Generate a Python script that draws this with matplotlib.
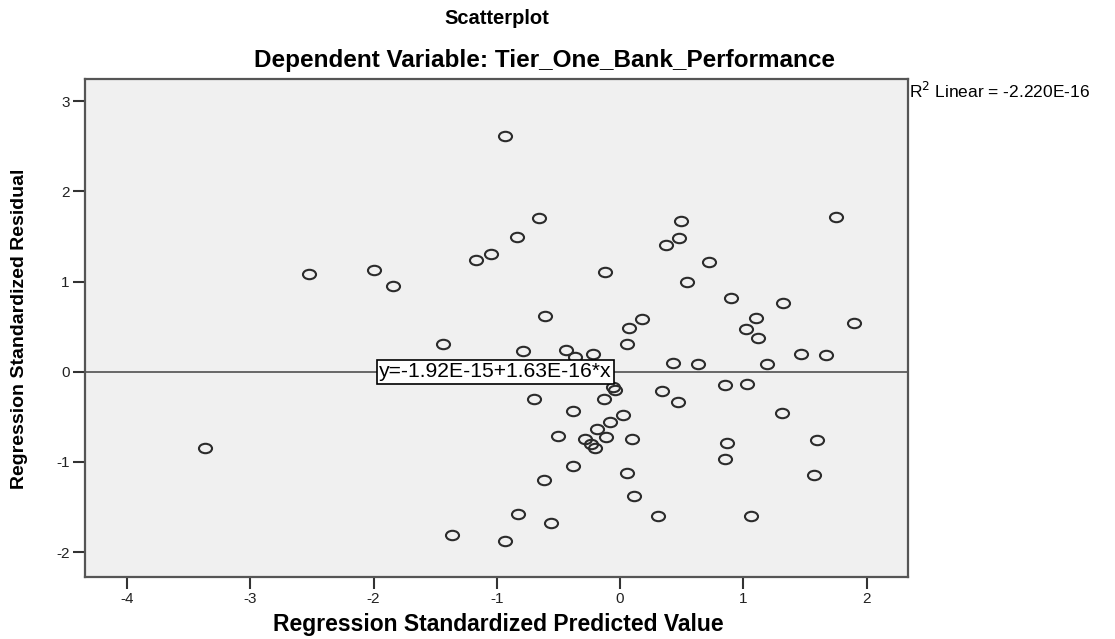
import matplotlib
matplotlib.use("Agg")
import matplotlib.pyplot as plt
from matplotlib.path import Path
from matplotlib.transforms import Affine2D

plt.rcParams['axes.unicode_minus'] = False
plt.rcParams['font.family'] = ['Liberation Sans', 'DejaVu Sans']

# regression standardized predicted value (x) and residual (y)
predicted = [-0.93, -0.66, -0.84, -1.05, -1.17, -2.00, -2.52, -1.84, -0.12, -0.61,
             0.18, 0.075, -1.44, 0.49, 0.475, 0.37, 0.72, 0.54, 1.75, 0.90,
             1.32, 1.10, 1.02, 1.12, 1.90, 0.054, 1.465, 1.67, 0.43, 0.635,
             1.19, 0.34, 0.47, 0.85, 1.03, 1.31, 0.095, 0.87, 0.85, 1.60,
             1.57, 0.054, 0.11, 0.31, 1.06, -0.79, -0.44, -0.365, -0.216, -0.055,
             -0.043, -0.695, -0.13, -0.384, 0.027, -0.08, -0.189, -0.506, -0.284, -0.116,
             -0.238, -0.203, -0.384, -0.619, -0.83, -0.56, -1.362, -0.933, -3.37]
residual = [2.61, 1.70, 1.49, 1.31, 1.24, 1.13, 1.08, 0.946, 1.11, 0.62,
            0.58, 0.49, 0.31, 1.67, 1.48, 1.40, 1.22, 1.00, 1.72, 0.82,
            0.76, 0.60, 0.475, 0.37, 0.535, 0.305, 0.194, 0.183, 0.098, 0.083,
            0.09, -0.213, -0.339, -0.15, -0.142, -0.453, -0.742, -0.786, -0.963, -0.76,
            -1.149, -1.123, -1.38, -1.60, -1.604, 0.23, 0.246, 0.164, 0.194, -0.17,
            -0.205, -0.298, -0.298, -0.435, -0.475, -0.557, -0.638, -0.712, -0.742, -0.723,
            -0.805, -0.842, -1.045, -1.197, -1.58, -1.674, -1.807, -1.878, -0.842]

fit_intercept = -1.92e-15
fit_slope = 1.63e-16
fit_label = "y=-1.92E-15+1.63E-16*x"
r2_label = "Linear = -2.220E-16"

x_ticks = [-4, -3, -2, -1, 0, 1, 2]
y_ticks = [-2, -1, 0, 1, 2, 3]
x_lim = (-4.34, 2.335)
y_lim = (-2.277, 3.246)

fig = plt.figure(figsize=(11.15, 6.39), dpi=100, facecolor="white")
ax = fig.add_axes([85 / 1115, 1 - 577 / 639, 823 / 1115, 498 / 639])
ax.set_facecolor("#f0f0f0")

# slightly flattened open circle, like the SPSS marker in the picture
ellipse = Path.unit_circle().transformed(Affine2D().scale(1.0, 0.72))
ax.plot(predicted, residual, linestyle="none", marker=ellipse, markersize=9.4,
        markerfacecolor="none", markeredgecolor="#2b2b2b", markeredgewidth=1.5, zorder=3)

fit_y = [fit_intercept + fit_slope * x for x in x_lim]
ax.plot(x_lim, fit_y, color="#505050", linewidth=1.2, zorder=2)
ax.text(-1.01, fit_intercept + fit_slope * -1.01, fit_label, ha="center", va="center",
        fontsize=15.2, color="black", zorder=5,
        bbox=dict(boxstyle="square,pad=0.12", facecolor="white", edgecolor="black", linewidth=1.2))

ax.set_xlim(*x_lim)
ax.set_ylim(*y_lim)
ax.set_xticks(x_ticks)
ax.set_yticks(y_ticks)
ax.set_xticklabels([str(t) for t in x_ticks])
ax.set_yticklabels([str(t) for t in y_ticks])
ax.tick_params(axis="both", direction="out", length=8.5, width=1.5, color="#333333",
               labelsize=11, labelcolor="#222222", pad=2.5)
for side in ax.spines.values():
    side.set_color("#555555")
    side.set_linewidth(1.6)

fig.text(497 / 1115, 1 - 19 / 639, "Scatterplot", ha="center", va="center",
         fontsize=14.5, fontweight="bold")
fig.text(545 / 1115, 1 - 60 / 639, "Dependent Variable: Tier_One_Bank_Performance",
         ha="center", va="center", fontsize=17.5, fontweight="bold")
fig.text(909 / 1115, 1 - 91 / 639, "R$^2$ " + r2_label, ha="left", va="center", fontsize=12.5)

fig.text(498 / 1115, 1 - 625 / 639, "Regression Standardized Predicted Value",
         ha="center", va="center", fontsize=16.5, fontweight="bold")
fig.text(20 / 1115, 1 - 329 / 639, "Regression Standardized Residual", rotation=90,
         ha="center", va="center", fontsize=14, fontweight="bold")

fig.savefig("out.png", dpi=100, facecolor="white")
